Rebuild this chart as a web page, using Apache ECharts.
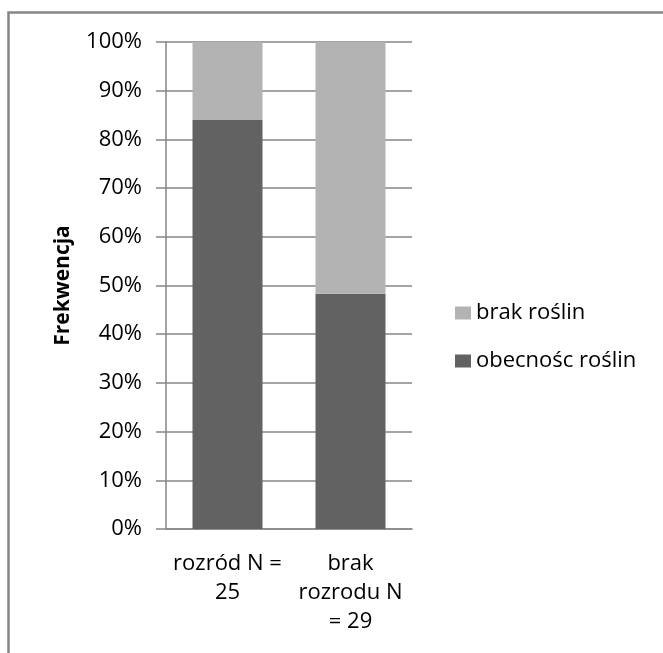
<!DOCTYPE html>
<html>
<head>
<meta charset="utf-8">
<script src="https://cdn.jsdelivr.net/npm/echarts@6/dist/echarts.min.js"></script>
<style>
  html, body { margin: 0; padding: 0; background: #fff; }
  #chart { width: 663px; height: 653px; }
</style>
</head>
<body>
<div id="chart"></div>
<script>
// Breeding groups on the x axis
const categories = ['rozród N =\n25', 'brak\nrozrodu N\n= 29'];
// Share of nests (%) with and without plants in each group
const presence = [84, 48.3];
const absence = [16, 51.7];
const yTicks = [0, 10, 20, 30, 40, 50, 60, 70, 80, 90, 100];

const FONT = 'Open Sans';
const chart = echarts.init(document.getElementById('chart'), null, { renderer: 'canvas' });

chart.setOption({
  animation: false,
  backgroundColor: '#ffffff',
  textStyle: { fontFamily: FONT },
  graphic: [{
    type: 'rect',
    shape: { x: 8.5, y: 12.5, width: 800, height: 800 },
    style: { fill: 'none', stroke: '#868686', lineWidth: 2.5 },
    silent: true,
    z: 100
  }],
  grid: { left: 166, right: 251, top: 42, bottom: 124, containLabel: false },
  legend: {
    orient: 'vertical',
    left: 455,
    top: 302,
    padding: 0,
    itemGap: 26,
    itemWidth: 16,
    itemHeight: 13,
    icon: 'rect',
    data: ['brak roślin', 'obecnośc roślin'],
    textStyle: { fontFamily: FONT, fontSize: 22, lineHeight: 22, color: '#000' }
  },
  xAxis: {
    type: 'category',
    data: categories,
    axisLine: { lineStyle: { color: '#868686', width: 1.5 } },
    axisTick: { show: false },
    axisLabel: {
      interval: 0,
      margin: 20,
      fontFamily: FONT,
      fontSize: 22,
      color: '#000',
      lineHeight: 29,
      align: 'center'
    }
  },
  yAxis: {
    type: 'value',
    min: yTicks[0],
    max: yTicks[yTicks.length - 1],
    interval: 10,
    name: 'Frekwencja',
    nameLocation: 'middle',
    nameGap: 92,
    nameRotate: 90,
    nameTextStyle: { fontFamily: FONT, fontSize: 21, fontWeight: 'bold', color: '#000' },
    axisLine: { show: true, lineStyle: { color: '#868686', width: 1.5 } },
    axisTick: { show: true, inside: false, length: 10, lineStyle: { color: '#868686', width: 1.5 } },
    splitLine: { show: true, lineStyle: { color: '#868686', width: 1.5 } },
    axisLabel: {
      margin: 24,
      fontFamily: FONT,
      fontSize: 22,
      color: '#000',
      formatter: v => v + '%'
    }
  },
  series: [
    {
      name: 'obecnośc roślin',
      type: 'bar',
      stack: 'total',
      data: presence,
      barWidth: 70,
      itemStyle: { color: '#626262' }
    },
    {
      name: 'brak roślin',
      type: 'bar',
      stack: 'total',
      data: absence,
      barWidth: 70,
      itemStyle: { color: '#b3b3b3' }
    }
  ]
});
</script>
</body>
</html>
